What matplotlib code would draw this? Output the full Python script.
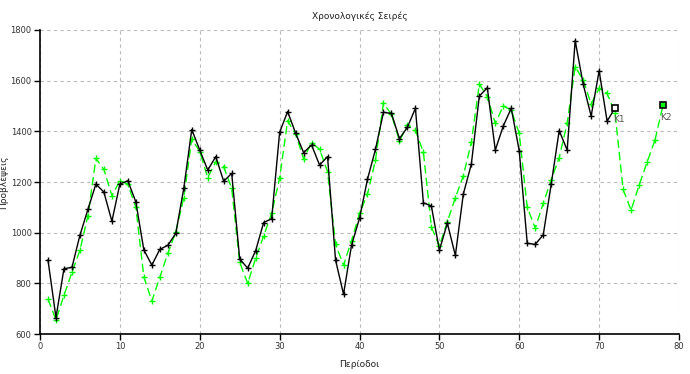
import numpy as np
import matplotlib
matplotlib.use("Agg")
import matplotlib.pyplot as plt

plt.rcParams['font.family'] = ['DejaVu Sans']

# Πραγματικές τιμές (K1), περίοδοι 1-72
k1_values = [892, 665, 858, 863, 990, 1092, 1192, 1160, 1045, 1192,
             1205, 1121, 932, 872, 934, 950, 997, 1175, 1407, 1326,
             1247, 1300, 1203, 1234, 896, 860, 929, 1040, 1055, 1396,
             1478, 1393, 1316, 1346, 1267, 1300, 892, 757, 950, 1057,
             1211, 1329, 1475, 1471, 1371, 1416, 1491, 1118, 1105, 931,
             1037, 910, 1153, 1270, 1539, 1572, 1326, 1421, 1491, 1323,
             958, 954, 991, 1191, 1403, 1326, 1758, 1587, 1460, 1639,
             1440, 1493]

# Προβλέψεις (K2), περίοδοι 1-78
k2_values = [738, 655, 753, 843, 931, 1066, 1293, 1250, 1146, 1205,
             1191, 1100, 826, 730, 824, 918, 1003, 1138, 1370, 1320,
             1217, 1280, 1260, 1175, 883, 800, 899, 987, 1076, 1215,
             1442, 1389, 1292, 1355, 1329, 1241, 954, 872, 968, 1076,
             1151, 1287, 1511, 1467, 1362, 1424, 1405, 1317, 1023, 947,
             1043, 1138, 1224, 1357, 1587, 1537, 1432, 1500, 1484, 1392,
             1100, 1018, 1116, 1208, 1296, 1432, 1655, 1603, 1508, 1570,
             1550, 1471, 1171, 1089, 1187, 1278, 1366, 1504]

k1_periods = np.arange(1, len(k1_values) + 1)
k2_periods = np.arange(1, len(k2_values) + 1)

fig = plt.figure(figsize=(6.9, 3.74), dpi=100)
ax = fig.add_axes([40 / 690, 1 - 334 / 374, 639 / 690, 304 / 374])

ax.plot(k2_periods[:-1], k2_values[:-1], color='#00ff00', lw=1,
        dashes=(6, 3), marker='+', ms=5, mew=1)
ax.plot(k2_periods[-2:], k2_values[-2:], color='#00ff00', lw=1, dashes=(6, 3))
ax.plot(k1_periods[:-1], k1_values[:-1], color='black', lw=1,
        marker='+', ms=5, mew=1)
ax.plot(k1_periods[-2:], k1_values[-2:], color='black', lw=1)

ax.plot(k1_periods[-1], k1_values[-1], 's', ms=4, mfc='white', mec='black', mew=1.2)
ax.plot(k2_periods[-1], k2_values[-1], 's', ms=4, mfc='#00ff00', mec='black', mew=1.2)
ax.text(k1_periods[-1] - 0.3, k1_values[-1] - 30, 'K1', fontsize=6.5, color='#555555',
        va='top', ha='left')
ax.text(k2_periods[-1] - 0.4, k2_values[-1] - 30, 'K2', fontsize=6.5, color='#555555',
        va='top', ha='left')

ax.set_xlim(0, 80)
ax.set_ylim(600, 1800)
ax.set_xticks(np.arange(0, 81, 10))
ax.set_yticks(np.arange(600, 1801, 200))
ax.grid(True, color='#bbbbbb', linestyle=(0, (3, 3)), lw=0.8)
ax.spines['top'].set_visible(False)
ax.spines['right'].set_visible(False)
ax.spines['left'].set_linewidth(1.2)
ax.spines['bottom'].set_linewidth(1.2)
ax.tick_params(labelsize=6, labelcolor='#333333', color='black', length=4, width=1, pad=2)

ax.set_title('Χρονολογικές Σειρές', fontsize=6.5, color='#222222', pad=8)
ax.set_xlabel('Περίοδοι', fontsize=6.5, color='#222222', labelpad=6)
ax.set_ylabel('Προβλέψεις', fontsize=6.5, color='#222222')
ax.yaxis.set_label_coords(-0.05, 0.5)

fig.savefig('out.png', dpi=100)
